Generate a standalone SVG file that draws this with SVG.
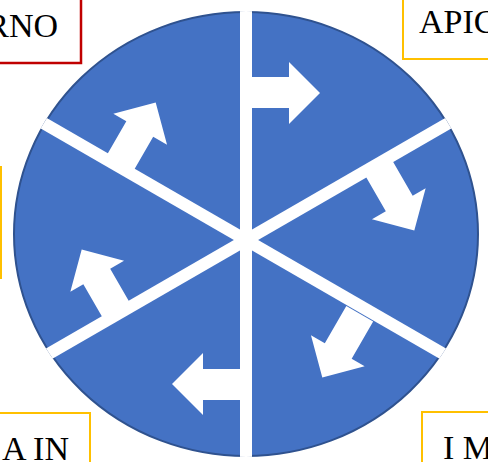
<svg xmlns="http://www.w3.org/2000/svg" width="488" height="462" viewBox="0 0 488 462">
  <defs>
    <style>
      .lbl { font-family: "Liberation Serif", "Times New Roman", serif; font-size: 34px; fill: #000; }
      .box-y { fill: #fff; stroke: #FFC000; stroke-width: 2; }
      .box-r { fill: #fff; stroke: #C00000; stroke-width: 2.5; }
      .band { stroke: #fff; stroke-width: 12; }
      .arrow { fill: #fff; }
    </style>
    <clipPath id="clipE">
      <ellipse cx="246" cy="234" rx="233" ry="223"/>
    </clipPath>
    <polygon id="arr" points="246,77 289,77 289,62 320,93 289,124 289,108 246,108"/>
  </defs>
  <rect width="488" height="462" fill="#fff"/>

  <g id="pie">
    <ellipse cx="246" cy="234" rx="232" ry="222" fill="#4472C4" stroke="#2F528F" stroke-width="2"/>
  </g>

  <g id="connectors" clip-path="url(#clipE)">
    <line class="band" x1="246" y1="0" x2="246" y2="462"/>
    <line class="band" x1="-10" y1="387.8" x2="502" y2="92.2"/>
    <line class="band" x1="-10" y1="92.2" x2="502" y2="387.8"/>
  </g>

  <g id="arrows" class="arrow">
    <use href="#arr"/>
    <use href="#arr" transform="translate(4,0) rotate(60 246 240)"/>
    <use href="#arr" transform="translate(-14,0) rotate(120 246 240)"/>
    <use href="#arr" transform="translate(0,-3) rotate(180 246 240)"/>
    <use href="#arr" transform="rotate(240 246 240)"/>
    <use href="#arr" transform="rotate(300 246 240)"/>
  </g>

  <g id="node-tl">
    <rect class="box-r" x="-20" y="-20" width="101" height="83"/>
    <text class="lbl" x="58" y="37" text-anchor="end">RNO</text>
  </g>
  <g id="node-tr">
    <rect class="box-y" x="403" y="-20" width="120" height="79"/>
    <text class="lbl" x="419" y="33">APIC</text>
  </g>
  <g id="node-l">
    <rect class="box-y" x="-100" y="167" width="101" height="111"/>
  </g>
  <g id="node-bl">
    <rect class="box-y" x="-20" y="413" width="110" height="70"/>
    <text class="lbl" x="69" y="460" text-anchor="end">A IN</text>
  </g>
  <g id="node-br">
    <rect class="box-y" x="422" y="412" width="100" height="70"/>
    <text class="lbl" x="443" y="459">I M</text>
  </g>
</svg>
